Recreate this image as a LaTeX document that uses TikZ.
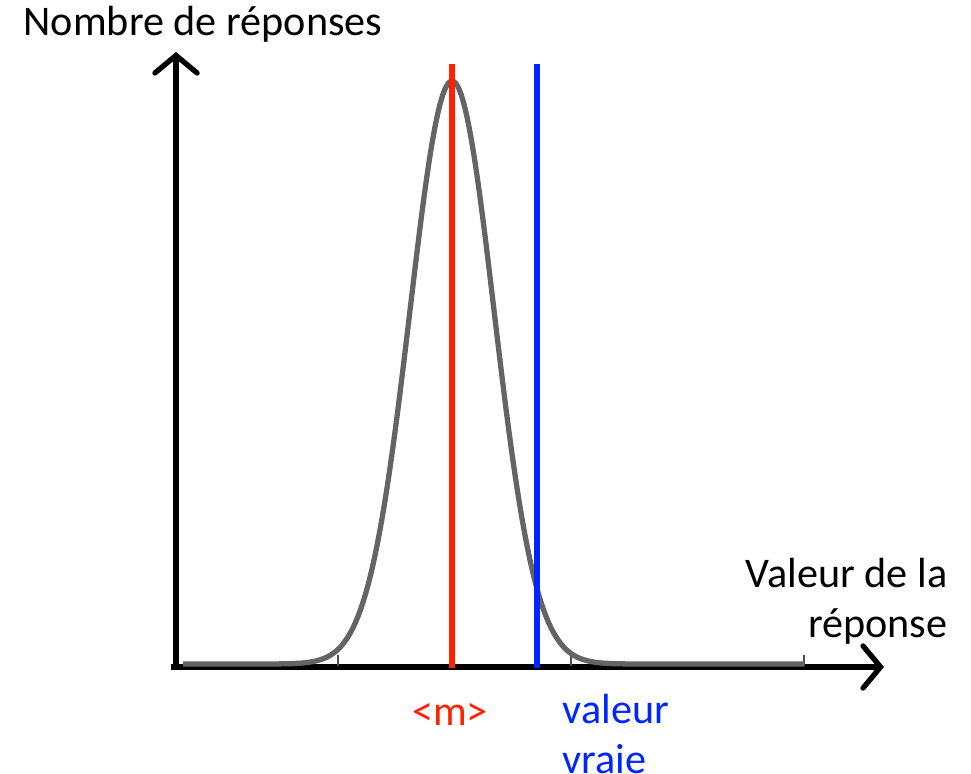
\documentclass[tikz,border=0pt]{standalone}
\usepackage{fontspec}
\setmainfont{Carlito}
\usetikzlibrary{arrows.meta}
\definecolor{mred}{RGB}{255,34,0}
\definecolor{vblue}{RGB}{0,38,255}
\definecolor{curvegray}{RGB}{100,100,100}
\tikzset{
  axis/.style={line width=1.5pt, -{Straight Barb[length=5pt, width=12pt, line cap=round]}},
  curve/.style={line width=1.5pt, curvegray},
  mline/.style={line width=1.5pt, mred},
  vline/.style={line width=1.5pt, vblue},
  tck/.style={line width=0.5pt, black!70},
  lbl/.style={inner sep=0pt, font=\fontsize{12pt}{14.2pt}\selectfont},
}

\begin{document}
\begin{tikzpicture}[x=0.01cm, y=-0.01cm]
  \useasboundingbox (0,0) rectangle (971,774);

  % --- Axes ---
  \coordinate (O) at (176,667);
  \coordinate (ytop) at (176,52);
  \coordinate (xend) at (884,667);
  \draw[axis] (O) -- (ytop);
  \draw[axis] (171,667) -- (xend);

  % small ticks on the value axis
  \foreach \t in {338,571,804}
    \draw[tck] (\t,666) -- (\t,655);

  % --- Distribution of the answers ---
  \draw[curve] (183,664) -- plot[domain=242:662, samples=160]
    (\x, {664 - 583*exp(-0.5*((\x-452)/42)^2)}) -- (804,664);

  % --- Mean and true value ---
  \coordinate (mtop) at (452,64);
  \coordinate (mbot) at (452,668);
  \coordinate (vtop) at (537,64);
  \coordinate (vbot) at (537,668);
  \draw[mline] (mtop) -- (mbot);
  \draw[vline] (vtop) -- (vbot);

  % --- Labels ---
  \node[lbl, anchor=base west] (ylabel) at (23,36) {Nombre de réponses};
  \node[lbl, anchor=base east, align=right] (xlabel) at (948,637) {Valeur de la\\réponse};
  \node[lbl, anchor=base, mred] (mlabel) at (450,725) {<m>};
  \node[lbl, anchor=base west, align=left, vblue] (vlabel) at (562,773) {valeur\\vraie};
\end{tikzpicture}
\end{document}
